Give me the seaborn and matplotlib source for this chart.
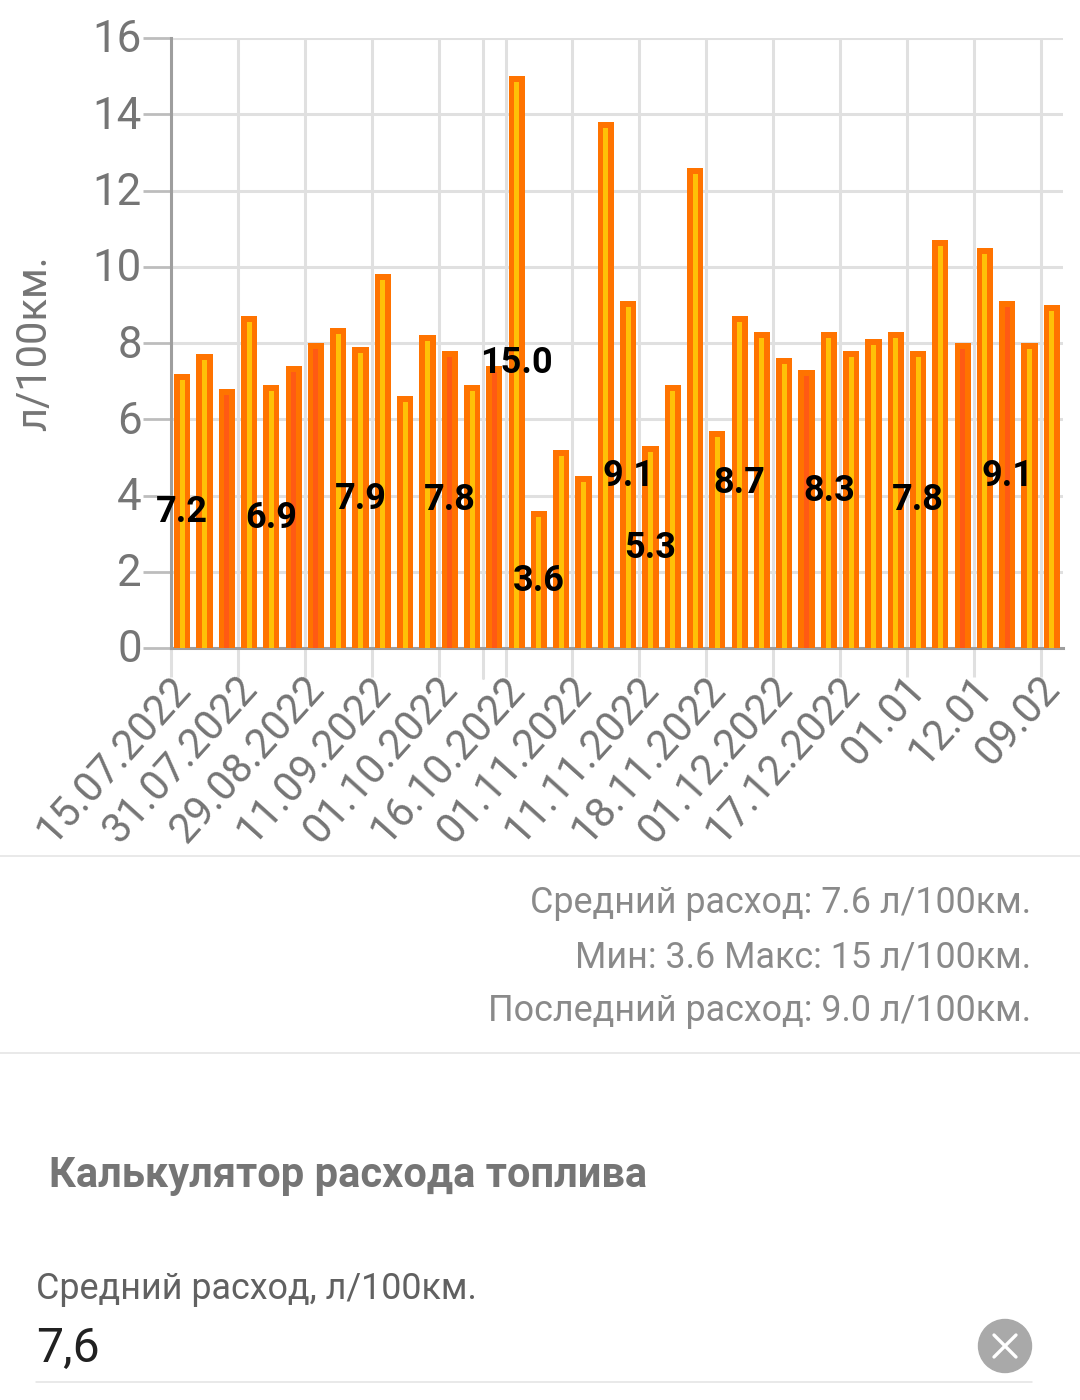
import numpy as np
import pandas as pd
import matplotlib
matplotlib.use('Agg')
import matplotlib.pyplot as plt
from matplotlib.patches import Circle
from matplotlib.transforms import ScaledTranslation
import seaborn as sns

values = [7.2, 7.7, 6.8, 8.7, 6.9, 7.4, 8.0, 8.4, 7.9, 9.8, 6.6, 8.2, 7.8, 6.9, 7.4, 15.0, 3.6, 5.2, 4.5, 13.8,
          9.1, 5.3, 6.9, 12.6, 5.7, 8.7, 8.3, 7.6, 7.3, 8.3, 7.8, 8.1, 8.3, 7.8, 10.7, 8.0, 10.5, 9.1, 8.0, 9.0]
dates = ['15.07.2022', '31.07.2022', '29.08.2022', '11.09.2022', '01.10.2022', '16.10.2022', '01.11.2022',
         '11.11.2022', '18.11.2022', '01.12.2022', '17.12.2022', '01.01', '12.01', '09.02']
# bars whose inner stripe is red-orange instead of yellow
red_stripe = [2, 5, 6, 12, 14, 28, 35, 37]
labeled = [0, 4, 8, 12, 15, 16, 20, 21, 25, 29, 33, 37]
summary = ['Средний расход: 7.6 л/100км.', 'Мин: 3.6 Макс: 15 л/100км.', 'Последний расход: 9.0 л/100км.']

sns.set_theme(style='white')
plt.rcParams['font.family'] = ['Roboto', 'DejaVu Sans']

W, H = 1080, 1400
GRAY = '#757575'
fig = plt.figure(figsize=(W / 100, H / 100), dpi=100)
ax = fig.add_axes([171 / W, 1 - 648 / H, (1063 - 171) / W, (648 - 38) / H])


def px(dx, dy):
    return ScaledTranslation(dx / 100, dy / 100, fig.dpi_scale_trans)


df = pd.DataFrame({'i': range(len(values)), 'v': values})
stripes = ['#ff5a14' if i in red_stripe else '#ffc107' for i in df['i']]

# outer orange bar, then a narrow stripe on top of it
sns.barplot(data=df, x='i', y='v', color='#ff7300', width=0.73, linewidth=0, ax=ax, zorder=3, saturation=1)
n_outer = len(ax.patches)
sns.barplot(data=df, x='i', y='v', hue='i', palette=stripes, legend=False, width=0.22, linewidth=0,
            ax=ax, zorder=4, saturation=1)
# stripe starts 6px below the top of its bar
for p in ax.patches[n_outer:]:
    p.set_transform(ax.transData + px(0, -6))

ax.set_xlabel('')
ax.set_xlim(-0.5, 39.5)
ax.set_ylim(0, 16)
ax.set_yticks(range(0, 17, 2))
ax.set_xticks(np.arange(len(dates)) * 3 - 0.5)
ax.set_xticklabels(dates, rotation=48, ha='right', va='top', rotation_mode='anchor')
ax.tick_params(axis='y', length=20, width=2, color='#bdbdbd', labelsize=31.5, labelcolor=GRAY, pad=1, left=True)
ax.tick_params(axis='x', length=21, width=2.2, color='#e0e0e0', labelsize=30, labelcolor=GRAY, pad=-8, bottom=True)
for t in ax.get_yticklabels():
    t.set_transform(t.get_transform() + px(0, 2))
for t in ax.get_xticklabels():
    t.set_transform(t.get_transform() + px(-3, -2))
ax.set_ylabel('л/100км.', fontsize=30, color=GRAY, labelpad=27)
ax.grid(True, color='#e0e0e0', linewidth=2.2, zorder=0)
ax.set_axisbelow(True)
ax.axvline(13.47, color='#e0e0e0', linewidth=2.2, zorder=0)
ax.plot([13.47, 13.47], [0, -0.78], color='#e0e0e0', linewidth=2.2, clip_on=False)
sns.despine(ax=ax, top=True, right=True)
ax.spines['left'].set_color('#9e9e9e')
ax.spines['left'].set_linewidth(2.2)
ax.spines['bottom'].set_color('#9e9e9e')
ax.spines['bottom'].set_linewidth(2.2)

for i in labeled:
    ax.text(i, values[i] / 2 - 0.03, f'{values[i]:.1f}', ha='center', va='center', fontsize=26,
            fontweight='bold', color='black', zorder=5)

# page area below the chart, in pixel coordinates
page = fig.add_axes([0, 0, 1, 1], zorder=-1)
page.set_xlim(0, W)
page.set_ylim(H, 0)
page.axis('off')
for y, x0, x1 in [(856, 0, W), (1053, 0, W), (1382, 36, 1032)]:
    page.plot([x0, x1], [y, y], color='#e3e3e3', linewidth=1.1)
for y, s in zip([903, 957, 1011], summary):
    page.text(1031, y, s, ha='right', va='center', fontsize=25.8, color='#8a8a8a')
page.text(49, 1175, 'Калькулятор расхода топлива', ha='left', va='center', fontsize=30,
          fontweight='bold', color='#757575')
page.text(36, 1289, 'Средний расход, л/100км.', ha='left', va='center', fontsize=25.85, color='#616161')
page.text(36, 1349, '7,6', ha='left', va='center', fontsize=34.7, color='#212121')
page.add_patch(Circle((1005, 1346), 26.5, color='#a9a9a9'))
page.plot([994, 1016], [1335, 1357], color='white', linewidth=2.4)
page.plot([994, 1016], [1357, 1335], color='white', linewidth=2.4)

fig.savefig('out.png', dpi=100, facecolor='white')
